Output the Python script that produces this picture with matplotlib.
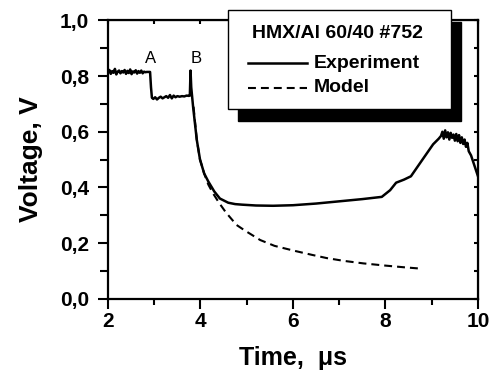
import matplotlib
matplotlib.use("Agg")
import matplotlib.pyplot as plt
from matplotlib.patches import Rectangle
from matplotlib.lines import Line2D

plt.rcParams['font.family'] = ['Liberation Sans', 'DejaVu Sans']

# initial plateau (noisy), t = 2.00 ... 2.87 step 0.03
plateau1_t = [2.00 + 0.03 * i for i in range(30)]
plateau1_v = [0.815, 0.822, 0.808, 0.818, 0.812, 0.826, 0.806, 0.816, 0.820, 0.810,
              0.818, 0.813, 0.822, 0.808, 0.819, 0.811, 0.824, 0.807, 0.817, 0.813,
              0.821, 0.809, 0.818, 0.812, 0.820, 0.810, 0.816, 0.814, 0.815, 0.815]

# second plateau after A, t = 2.91 ... 3.77
step_t = [2.91, 2.93, 2.95, 2.98, 3.02, 3.06, 3.10, 3.14, 3.18, 3.22, 3.26, 3.30, 3.34,
          3.38, 3.42, 3.46, 3.50, 3.55, 3.60, 3.65, 3.70, 3.75, 3.77]
step_v = [0.815, 0.760, 0.722, 0.718, 0.724, 0.716, 0.722, 0.726, 0.720, 0.724, 0.728,
          0.722, 0.732, 0.720, 0.730, 0.724, 0.728, 0.726, 0.728, 0.727, 0.730, 0.729, 0.730]

# decay after B and late rise
decay_t = [3.785, 3.80, 3.84, 3.92, 3.99, 4.08, 4.17, 4.30, 4.42, 4.60, 4.75, 4.90, 5.20,
           5.57, 6.00, 6.50, 7.00, 7.50, 7.92, 8.10, 8.23, 8.40, 8.55, 8.80, 9.03, 9.15]
decay_v = [0.820, 0.760, 0.690, 0.571, 0.500, 0.450, 0.421, 0.385, 0.360, 0.345, 0.340,
           0.338, 0.335, 0.334, 0.336, 0.342, 0.350, 0.358, 0.366, 0.390, 0.417, 0.428,
           0.440, 0.500, 0.555, 0.575]

# noisy hump near the end
hump_t = [9.20, 9.23, 9.26, 9.29, 9.32, 9.35, 9.38, 9.41, 9.44, 9.47, 9.50, 9.53, 9.56,
          9.59, 9.62, 9.65, 9.68, 9.71, 9.74, 9.77, 9.80, 9.85, 9.90, 9.95, 10.0]
hump_v = [0.585, 0.600, 0.575, 0.605, 0.580, 0.598, 0.572, 0.596, 0.578, 0.590, 0.568,
          0.592, 0.566, 0.588, 0.560, 0.580, 0.556, 0.572, 0.546, 0.560, 0.530, 0.515,
          0.490, 0.465, 0.440]

exp_t = plateau1_t + step_t + decay_t + hump_t
exp_v = plateau1_v + step_v + decay_v + hump_v

model_t = [3.85, 3.92, 3.99, 4.08, 4.17, 4.27, 4.40, 4.55, 4.78, 4.96, 5.29, 5.60,
           6.01, 6.40, 6.73, 7.10, 7.52, 8.00, 8.40, 8.70]
model_v = [0.690, 0.571, 0.500, 0.450, 0.410, 0.379, 0.345, 0.310, 0.265, 0.245, 0.211,
           0.190, 0.173, 0.158, 0.146, 0.136, 0.127, 0.119, 0.113, 0.109]

x_ticks = [2, 4, 6, 8, 10]
y_ticks = [0.0, 0.2, 0.4, 0.6, 0.8, 1.0]
y_labels = ['0,0', '0,2', '0,4', '0,6', '0,8', '1,0']

fig = plt.figure(figsize=(4.96, 3.72), dpi=100)
ax = fig.add_axes([0.2177, 0.197, 0.746, 0.748])

ax.plot(exp_t, exp_v, color='black', lw=1.8, solid_joinstyle='round')
ax.plot(model_t, model_v, color='black', lw=1.5, dashes=(3.8, 2.4))

ax.set_xlim(2, 10)
ax.set_ylim(0, 1.0)
ax.set_xticks(x_ticks)
ax.set_xticks([3, 5, 7, 9], minor=True)
ax.set_yticks(y_ticks)
ax.set_yticklabels(y_labels)
ax.set_yticks([0.1, 0.3, 0.5, 0.7, 0.9], minor=True)
for lab in ax.get_xticklabels() + ax.get_yticklabels():
    lab.set_fontweight('bold')
ax.tick_params(which='both', direction='out', width=1.5, labelsize=15, top=False, right=False)
ax.tick_params(which='major', length=7.5, pad=2)
ax.tick_params(axis='y', which='major', pad=6)
ax.tick_params(axis='x', which='minor', length=4.5)
ax.tick_params(axis='y', which='minor', length=6)
for s in ax.spines.values():
    s.set_linewidth(1.6)

# inner ticks on top and right axes
ax_t = ax.secondary_xaxis('top')
ax_t.set_xticks([2, 3, 4, 5, 6, 7, 8, 9, 10])
ax_t.tick_params(direction='in', length=3, width=1.5, labeltop=False)
ax_r = ax.secondary_yaxis('right')
ax_r.set_yticks([0.1 * i for i in range(11)])
ax_r.tick_params(direction='in', length=3, width=1.5, labelright=False)

ax.set_xlabel('Time,  \u03bcs', fontsize=18, fontweight='bold', labelpad=11)
ax.set_ylabel('Voltage, V', fontsize=19, fontweight='bold', labelpad=12)

ax.text(2.91, 0.865, 'A', fontsize=12, ha='center', va='center')
ax.text(3.9, 0.865, 'B', fontsize=12, ha='center', va='center')

# legend box with solid shadow
W, H = 496, 372
bx0, by0, bx1, by1 = 228, 10, 451, 109
fig.add_artist(Rectangle(((bx0 + 10) / W, 1 - (by1 + 12) / H), (bx1 - bx0) / W, (by1 - by0) / H,
                         transform=fig.transFigure, facecolor='black', edgecolor='black', zorder=5))
fig.add_artist(Rectangle((bx0 / W, 1 - by1 / H), (bx1 - bx0) / W, (by1 - by0) / H,
                         transform=fig.transFigure, facecolor='white', edgecolor='black',
                         lw=1.0, zorder=6))
fig.text(337 / W, 1 - 34 / H, 'HMX/Al 60/40 #752', fontsize=14, fontweight='bold',
         ha='center', va='center', zorder=7)
fig.add_artist(Line2D([248 / W, 307 / W], [1 - 63 / H, 1 - 63 / H], transform=fig.transFigure,
                      color='black', lw=1.8, zorder=7))
fig.text(314 / W, 1 - 63 / H, 'Experiment', fontsize=14, fontweight='bold',
         ha='left', va='center', zorder=7)
fig.add_artist(Line2D([248 / W, 307 / W], [1 - 88 / H, 1 - 88 / H], transform=fig.transFigure,
                      color='black', lw=1.5, dashes=(3.8, 2.4), zorder=7))
fig.text(314 / W, 1 - 88 / H, 'Model', fontsize=14, fontweight='bold',
         ha='left', va='center', zorder=7)

fig.savefig('out.png', dpi=100)
